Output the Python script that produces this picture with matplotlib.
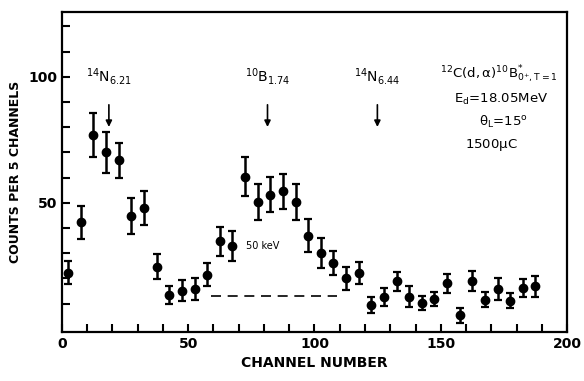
import matplotlib.pyplot as plt
import numpy as np

plt.rcParams['font.family'] = ['DejaVu Sans']
plt.rcParams['mathtext.default'] = 'regular'

# counts per 5 channels
channel = np.arange(2.5, 190, 5)
counts = [22.3, 42.2, 77, 70, 66.8, 44.8, 47.9, 24.7, 13.4, 15.2,
          15.7, 21.4, 34.7, 32.9, 60.4, 50.3, 53.2, 54.5, 50.3, 37,
          30, 26, 20.1, 22.1, 9.5, 12.6, 18.8, 12.8, 10.4, 11.9,
          18.1, 5.3, 19, 11.5, 15.7, 11.2, 16.1, 16.8]
errors = [4.6, 6.5, 8.8, 8, 7, 7, 6.8, 4.8, 3.7, 4.3,
          4.4, 4.6, 5.8, 6, 7.6, 7, 7, 7, 7, 6.4,
          6, 4.8, 4.6, 4.5, 3.3, 3.6, 3.8, 4, 2.8, 2.8,
          3.7, 3, 3.8, 3, 4.3, 3.1, 3.6, 4]

# marked states: label, channel
peak_labels = [r'$^{14}$N$_{6.21}$', r'$^{10}$B$_{1.74}$', r'$^{14}$N$_{6.44}$']
peak_channels = [18.6, 81.4, 124.9]

bg_channels = [59, 109]
bg_level = 13

fig = plt.figure(figsize=(5.84, 3.81), dpi=100)
ax = fig.add_axes([0.106, 0.129, 0.865, 0.840])

ax.errorbar(channel, counts, yerr=errors, fmt='o', color='black', markersize=6,
            elinewidth=1.8, capsize=3, capthick=1.6)

ax.plot(bg_channels, [bg_level, bg_level], color='black', linestyle=(0, (6, 4)), linewidth=1.2)
ax.text(73, 33, '50 keV', fontsize=7, va='center')

for lab, ch in zip(peak_labels, peak_channels):
    ax.annotate('', xy=(ch, 79), xytext=(ch, 90),
                arrowprops=dict(arrowstyle='-|>', color='black', lw=1.2, mutation_scale=9))
    ax.text(ch, 96, lab, ha='center', va='bottom', fontsize=10)

ax.text(173, 101, r'$^{12}$C($d,\alpha$)$^{10}$B$^{*}_{0^{+},T=1}$', ha='center', va='center', fontsize=9.5)
ax.text(174, 91, r'E$_{d}$=18.05MeV', ha='center', va='center', fontsize=9.5)
ax.text(175, 82, r'$\theta_{L}$=15$^{o}$', ha='center', va='center', fontsize=9.5)
ax.text(170, 73, r'1500$\mu$C', ha='center', va='center', fontsize=9.5)

ax.set_xlim(0, 200)
ax.set_ylim(-1.2, 125.8)
ax.set_xticks([0, 50, 100, 150, 200])
ax.set_xticks(np.arange(0, 201, 10), minor=True)
ax.set_yticks([50, 100])
ax.set_yticks(np.arange(10, 125, 10), minor=True)
ax.tick_params(which='both', direction='in', top=False, right=False, labelsize=10, width=1.5)
ax.tick_params(which='major', length=6)
ax.tick_params(which='minor', length=6)
for lbl in ax.get_xticklabels() + ax.get_yticklabels():
    lbl.set_fontweight('bold')
for s in ax.spines.values():
    s.set_linewidth(1.6)

ax.set_xlabel('CHANNEL NUMBER', fontsize=10, fontweight='bold')
ax.set_ylabel('COUNTS PER 5 CHANNELS', fontsize=9, fontweight='bold')

fig.savefig('out.png', dpi=100)
